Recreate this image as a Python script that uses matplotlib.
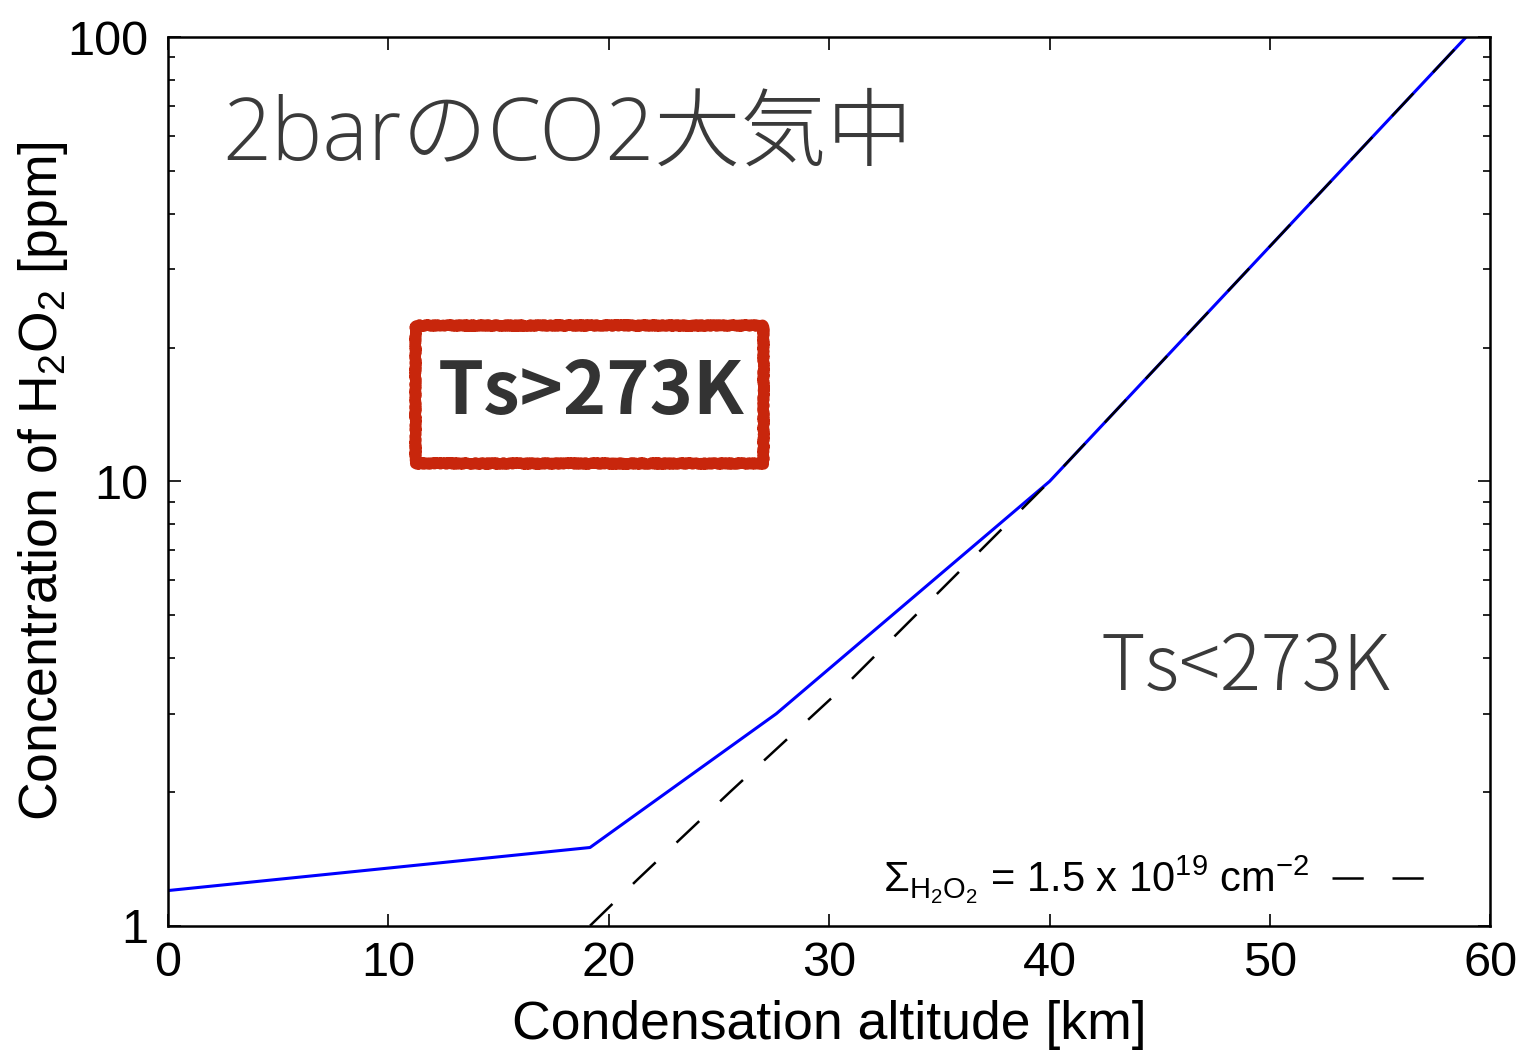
import matplotlib
matplotlib.use("Agg")
import matplotlib.pyplot as plt
from matplotlib.patches import Rectangle

plt.rcParams["font.family"] = ["Liberation Sans", "DejaVu Sans"]
plt.rcParams["mathtext.fontset"] = "custom"
plt.rcParams["mathtext.rm"] = "Liberation Sans"
plt.rcParams["mathtext.it"] = "Liberation Sans:italic"
plt.rcParams["mathtext.bf"] = "Liberation Sans:bold"

# model profile: H2O2 mixing ratio vs condensation altitude
alt_model = [0.0, 19.15, 27.6, 40.0, 58.9]
conc_model = [1.2, 1.5, 3.0, 10.0, 100.0]

# constant column amount curve
alt_column = [19.15, 21.3, 25.5, 30.8, 40.0, 58.9]
conc_column = [1.0, 1.27, 2.0, 3.5, 10.0, 100.0]

column_label = r"$\Sigma_{\mathrm{H_2O_2}}$ = 1.5 x 10$^{19}$ cm$^{-2}$"

x_ticks = [0, 10, 20, 30, 40, 50, 60]
y_ticks = [1, 10, 100]
y_tick_labels = ["1", "10", "100"]

fig = plt.figure(figsize=(15.27, 10.58), dpi=100)
ax = fig.add_axes([0.110, 0.125, 0.866, 0.840])

ax.plot(alt_model, conc_model, color="#0000ff", lw=2.2)
ax.plot(alt_column, conc_column, color="black", lw=1.8,
        linestyle=(0, (12.5, 11.5)), label=column_label)

ax.set_yscale("log")
ax.set_xlim(0, 60)
ax.set_ylim(1, 100)
ax.set_xticks(x_ticks)
ax.set_xticklabels([str(t) for t in x_ticks])
ax.set_yticks(y_ticks)
ax.set_yticklabels(y_tick_labels)

ax.tick_params(which="both", direction="in", top=True, right=True, width=1.2)
ax.tick_params(which="major", length=9, labelsize=35)
ax.tick_params(which="minor", length=5)
ax.tick_params(axis="y", which="major", pad=14)
ax.tick_params(axis="x", which="major", pad=11)
ax.yaxis.set_minor_formatter(plt.NullFormatter())
for s in ax.spines.values():
    s.set_linewidth(1.8)

ax.set_xlabel("Condensation altitude [km]", fontsize=38.5, labelpad=10)
ax.set_ylabel("Concentration of H$_2$O$_2$ [ppm]", fontsize=38.5)
ax.yaxis.set_label_coords(-0.074, 0.5)

leg = ax.legend(loc="lower right", bbox_to_anchor=(0.953, 0.022),
                frameon=False, markerfirst=False, fontsize=30,
                handlelength=2.3, handletextpad=0.55,
                borderpad=0, borderaxespad=0)

# annotations
ax.text(0.041, 0.862, "2barのCO2大気中", transform=ax.transAxes,
        family=["Open Sans", "Noto Sans CJK JP", "DejaVu Sans"],
        fontsize=62, weight="light", color="#3a3a3a",
        va="baseline", ha="left")
jp = ["Noto Sans CJK JP", "DejaVu Sans"]
ax.text(0.705, 0.2655, "Ts<273K", transform=ax.transAxes,
        family=jp, fontsize=55, weight="light", color="#3a3a3a",
        va="baseline", ha="left")
ax.text(0.320, 0.600, "Ts>273K", transform=ax.transAxes,
        family=jp, fontsize=53, weight="bold", color="#333333",
        va="center", ha="center")

# rough red frame around the warm-surface label
for lw, sc, rnd in [(8, 0.8, 4), (5, 1.5, 8), (2.5, 2.0, 12)]:
    box = Rectangle((0.187, 0.521), 0.263, 0.155, transform=ax.transAxes,
                    fill=False, edgecolor="#c8260c", lw=lw,
                    joinstyle="round", capstyle="round")
    box.set_sketch_params(scale=sc, length=3, randomness=rnd)
    ax.add_patch(box)

fig.savefig("out.png", dpi=100)
